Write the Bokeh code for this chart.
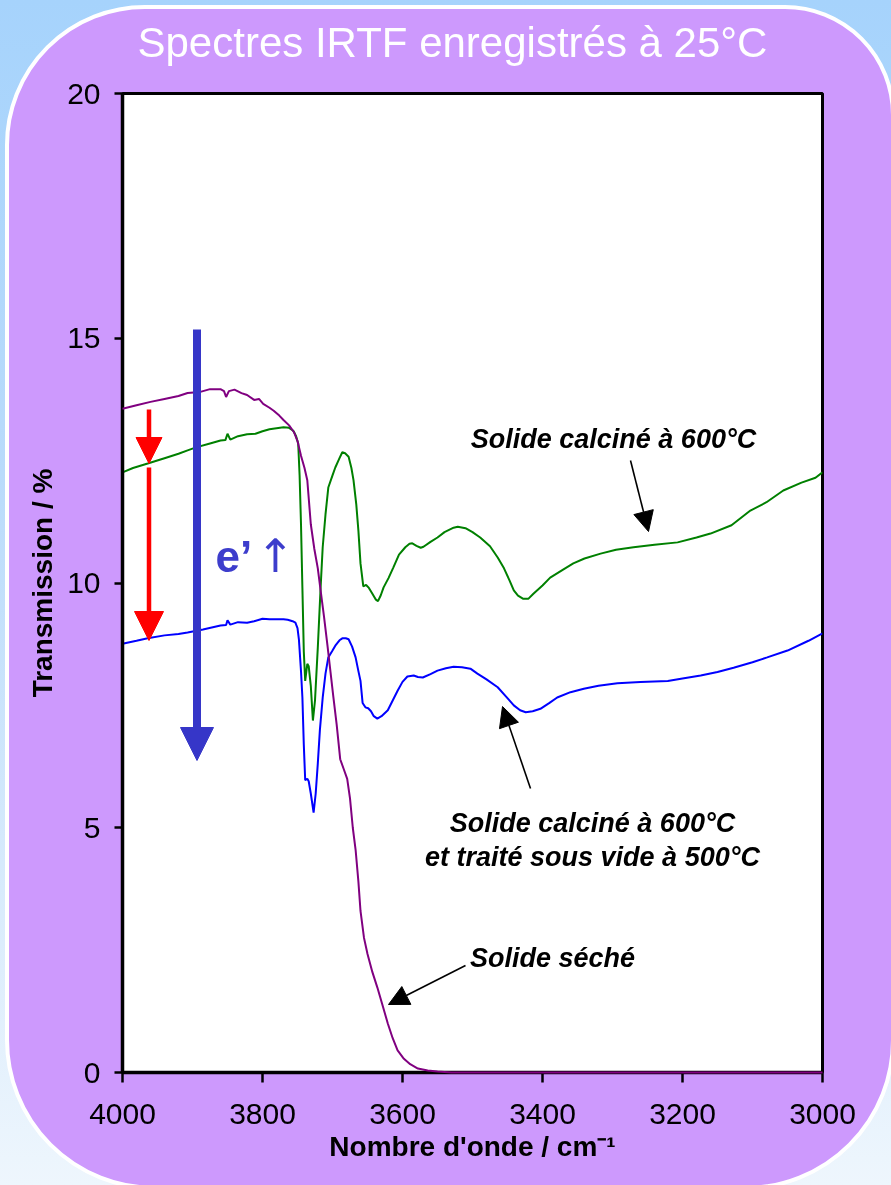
from bokeh.plotting import figure
from bokeh.models import Range1d, FixedTicker, Label, Arrow, NormalHead, GlobalInlineStyleSheet
from bokeh.embed import file_html
from bokeh.resources import INLINE

# ---------------- data ----------------
TITLE = "Spectres IRTF enregistrés à 25°C"
X_LABEL = "Nombre d'onde / cm⁻¹"
Y_LABEL = "Transmission / %"
X_TICKS = [4000, 3800, 3600, 3400, 3200, 3000]
Y_TICKS = [0, 5, 10, 15, 20]

# Solide séché (purple)
dried_wn = [4000, 3980, 3960, 3940, 3920, 3907, 3890, 3875, 3860, 3855, 3852, 3848, 3840, 3830,
            3822, 3812, 3805, 3799, 3790, 3784, 3776, 3770, 3762, 3755, 3750, 3745, 3740, 3736,
            3731, 3726, 3721, 3717, 3712, 3707, 3703, 3699, 3694, 3689, 3684, 3679, 3675, 3671,
            3667, 3663, 3660, 3655, 3650, 3643, 3636, 3628, 3621, 3614, 3607, 3598, 3589, 3578,
            3564, 3550, 3530, 3000]
dried_T = [13.56, 13.63, 13.70, 13.76, 13.82, 13.88, 13.90, 13.96, 13.96, 13.92, 13.80, 13.92, 13.95, 13.88,
           13.84, 13.74, 13.76, 13.66, 13.58, 13.52, 13.42, 13.33, 13.22, 13.08, 12.90, 12.60, 12.35, 12.10,
           11.20, 10.70, 10.30, 9.85, 9.30, 8.70, 8.20, 7.70, 7.10, 6.40, 6.20, 6.00, 5.60, 5.00,
           4.55, 3.90, 3.30, 2.75, 2.42, 2.05, 1.74, 1.35, 1.00, 0.70, 0.45, 0.28, 0.17, 0.08,
           0.04, 0.02, 0.0, 0.0]

# Solide calciné à 600°C (green)
calc_wn = [4000, 3985, 3964, 3940, 3920, 3907, 3895, 3875, 3860, 3853, 3850, 3846, 3835, 3822,
           3810, 3800, 3790, 3780, 3770, 3762, 3756, 3752, 3749, 3747, 3745, 3743, 3741, 3739,
           3736, 3734, 3731, 3728, 3725, 3721, 3717, 3714, 3710, 3706, 3700, 3696, 3690, 3686,
           3682, 3677, 3673, 3670, 3666, 3663, 3660, 3656, 3652, 3648, 3643, 3638, 3635, 3631,
           3627, 3620, 3613, 3605, 3596, 3590, 3586, 3580, 3574, 3570, 3560, 3550, 3540, 3527,
           3521, 3510, 3500, 3489, 3475, 3464, 3455, 3447, 3441, 3435, 3428, 3420, 3413, 3400,
           3389, 3370, 3356, 3340, 3317, 3295, 3270, 3240, 3207, 3180, 3160, 3130, 3103, 3080,
           3056, 3030, 3010, 3000]
calc_T = [12.26, 12.35, 12.44, 12.55, 12.64, 12.71, 12.77, 12.85, 12.91, 12.92, 13.05, 12.93, 13.00, 13.04,
          13.05, 13.10, 13.14, 13.16, 13.18, 13.17, 13.11, 13.00, 12.85, 12.20, 11.20, 9.90, 8.60, 8.00,
          8.35, 8.30, 7.90, 7.19, 7.60, 8.68, 9.90, 10.73, 11.40, 11.95, 12.20, 12.36, 12.55, 12.67,
          12.65, 12.58, 12.35, 12.10, 11.60, 11.07, 10.40, 9.93, 9.96, 9.90, 9.78, 9.66, 9.63, 9.75,
          9.91, 10.10, 10.32, 10.58, 10.73, 10.80, 10.81, 10.76, 10.72, 10.74, 10.84, 10.93, 11.04, 11.13,
          11.15, 11.12, 11.04, 10.93, 10.75, 10.52, 10.30, 10.05, 9.85, 9.74, 9.68, 9.68, 9.78, 9.95,
          10.11, 10.28, 10.40, 10.50, 10.60, 10.68, 10.73, 10.78, 10.83, 10.93, 11.01, 11.18, 11.48, 11.65,
          11.89, 12.05, 12.15, 12.26]

# Solide calciné à 600°C et traité sous vide à 500°C (blue)
vac_wn = [4000, 3980, 3964, 3940, 3920, 3907, 3885, 3860, 3852, 3850, 3846, 3835, 3822, 3812,
          3800, 3790, 3780, 3770, 3764, 3757, 3753, 3750, 3748, 3745, 3743, 3741, 3739, 3736,
          3734, 3731, 3727, 3724, 3721, 3718, 3714, 3710, 3706, 3700, 3696, 3690, 3686, 3681,
          3677, 3672, 3667, 3663, 3660, 3657, 3653, 3649, 3645, 3641, 3636, 3630, 3621, 3614,
          3607, 3600, 3593, 3584, 3578, 3571, 3560, 3550, 3538, 3527, 3515, 3503, 3493, 3480,
          3464, 3452, 3441, 3432, 3424, 3414, 3403, 3390, 3379, 3360, 3341, 3320, 3293, 3260,
          3221, 3200, 3174, 3150, 3127, 3100, 3079, 3050, 3020, 3000]
vac_T = [8.76, 8.82, 8.87, 8.93, 8.96, 8.99, 9.05, 9.13, 9.14, 9.24, 9.15, 9.20, 9.19, 9.22,
         9.27, 9.26, 9.26, 9.26, 9.25, 9.22, 9.19, 9.08, 8.85, 8.20, 7.66, 6.70, 5.97, 6.00,
         5.95, 5.70, 5.31, 5.70, 6.31, 7.00, 7.66, 8.15, 8.48, 8.62, 8.72, 8.83, 8.87, 8.87,
         8.85, 8.70, 8.48, 8.20, 8.00, 7.55, 7.46, 7.44, 7.38, 7.28, 7.23, 7.28, 7.40, 7.60,
         7.80, 7.98, 8.09, 8.11, 8.08, 8.07, 8.14, 8.21, 8.26, 8.29, 8.28, 8.25, 8.15, 8.03,
         7.87, 7.68, 7.50, 7.40, 7.36, 7.38, 7.43, 7.55, 7.66, 7.77, 7.84, 7.90, 7.95, 7.98,
         8.00, 8.05, 8.11, 8.18, 8.27, 8.38, 8.48, 8.62, 8.82, 8.97]

LBL_CALC = "Solide calciné à 600°C"
LBL_VAC_1 = "Solide calciné à 600°C"
LBL_VAC_2 = "et traité sous vide à 500°C"
LBL_DRIED = "Solide séché"

# ---------------- layout (page pixels; the canvas starts at the page corner) ----------------
W, H = 891, 1185
FL, FR, FT, FB = 122, 822, 93, 1072
X0, X1, Y0, Y1 = 4000, 3000, 0, 20


def X(px):
    return X0 + (px - FL) * (X1 - X0) / (FR - FL)


def Y(py):
    return Y0 + (FB - py) * (Y1 - Y0) / (FB - FT)


FONT = "Liberation Sans"
PURPLE_BG = "#cd99fd"

p = figure(frame_width=FR - FL, frame_height=FB - FT,
           x_range=Range1d(X0, X1), y_range=Range1d(Y0, Y1),
           output_backend="svg", toolbar_location=None,
           min_border_left=FL, min_border_right=W - FR,
           min_border_top=FT, min_border_bottom=H - FB,
           background_fill_color="white",
           border_fill_color=PURPLE_BG, border_fill_alpha=0)

# slide background: blue gradient + rounded purple panel with a white rim (behind the canvas)
css = """
html { background: linear-gradient(to bottom, #a6d3fc 0%, #b9dbfb 40%, #d8ebfc 75%, #eef6fd 100%); }
body { background: transparent; }
body::before {
  content: ""; position: fixed; left: 5px; top: 5px; right: -4px; bottom: -5px;
  box-sizing: border-box; background: #cd99fd; border: 4px solid #ffffff;
  border-radius: 140px 110px 150px 150px; z-index: -1;
}
"""
p.stylesheets = [GlobalInlineStyleSheet(css=css)]

p.xgrid.visible = False
p.ygrid.visible = False
p.outline_line_color = "black"
p.outline_line_width = 3

# title (placed in the top border panel)
p.add_layout(Label(x=X(137), y=Y(42), text=TITLE, text_align="left", text_baseline="middle",
                   text_font=FONT, text_font_size="42px", text_color="white"), "above")

# curves
p.line(calc_wn, calc_T, line_color="#008000", line_width=2)
p.line(vac_wn, vac_T, line_color="#0000ff", line_width=2)
p.line(dried_wn, dried_T, line_color="#800080", line_width=2, level="annotation")

# axes
xa = p.xaxis[0]
xa.ticker = FixedTicker(ticks=X_TICKS)
xa.axis_label = X_LABEL
ya = p.yaxis[0]
ya.ticker = FixedTicker(ticks=Y_TICKS)
ya.axis_label = Y_LABEL
for ax in (xa, ya):
    ax.axis_line_color = "black"
    ax.axis_line_width = 3.5
    ax.major_tick_line_color = "black"
    ax.major_tick_line_width = 2.5
    ax.major_tick_in = 0
    ax.minor_tick_line_color = None
    ax.major_label_text_font = FONT
    ax.major_label_text_font_size = "30px"
    ax.major_label_text_color = "black"
    ax.axis_label_text_font = FONT
    ax.axis_label_text_font_size = "28px"
    ax.axis_label_text_font_style = "bold"
    ax.axis_label_text_color = "black"
xa.major_tick_out = 10
xa.major_label_standoff = 21
xa.axis_label_standoff = 4
ya.major_tick_out = 8
ya.major_label_standoff = 14
ya.axis_label_standoff = 6

# thickness arrows
BLUE_A = "#3636c8"
p.add_layout(Arrow(x_start=X(196.5), y_start=Y(329), x_end=X(196.5), y_end=Y(760),
                   line_color=BLUE_A, line_width=8, level="overlay",
                   end=NormalHead(size=33, fill_color=BLUE_A, line_color=BLUE_A, line_width=1)))
p.add_layout(Arrow(x_start=X(148.5), y_start=Y(409), x_end=X(148.5), y_end=Y(463),
                   line_color="red", line_width=4.5, level="overlay",
                   end=NormalHead(size=26, fill_color="red", line_color="red", line_width=1)))
p.add_layout(Arrow(x_start=X(148.5), y_start=Y(467), x_end=X(148.5), y_end=Y(640),
                   line_color="red", line_width=4.5, level="overlay",
                   end=NormalHead(size=29, fill_color="red", line_color="red", line_width=1)))
p.add_layout(Label(x=X(215), y=Y(556), text="e’", text_align="left", text_baseline="alphabetic",
                   text_font=FONT, text_font_size="44px", text_font_style="bold",
                   text_color="#3d3dcc", level="overlay"))
p.add_layout(Label(x=X(275), y=Y(555), text="↑", text_align="center", text_baseline="alphabetic",
                   text_font="DejaVu Sans", text_font_size="46px", text_color="#3d3dcc",
                   level="overlay"))

# curve annotations
for (xs, ys, xe, ye) in [(630, 460, 648, 531), (530, 788, 502, 706), (465, 965, 388, 1004)]:
    p.add_layout(Arrow(x_start=X(xs), y_start=Y(ys), x_end=X(xe), y_end=Y(ye),
                       line_color="black", line_width=1.6, level="overlay",
                       end=NormalHead(size=20, fill_color="black", line_color="black", line_width=1)))

for (txt, px, py) in [(LBL_CALC, 613, 438), (LBL_VAC_1, 592, 822), (LBL_VAC_2, 592, 856),
                      (LBL_DRIED, 552, 957)]:
    p.add_layout(Label(x=X(px), y=Y(py), text=txt, text_align="center", text_baseline="middle",
                       text_font=FONT, text_font_size="27px", text_font_style="bold italic",
                       text_color="black", level="overlay"))

open("out.html", "w").write(file_html(p, INLINE, title="Spectres IRTF"))
